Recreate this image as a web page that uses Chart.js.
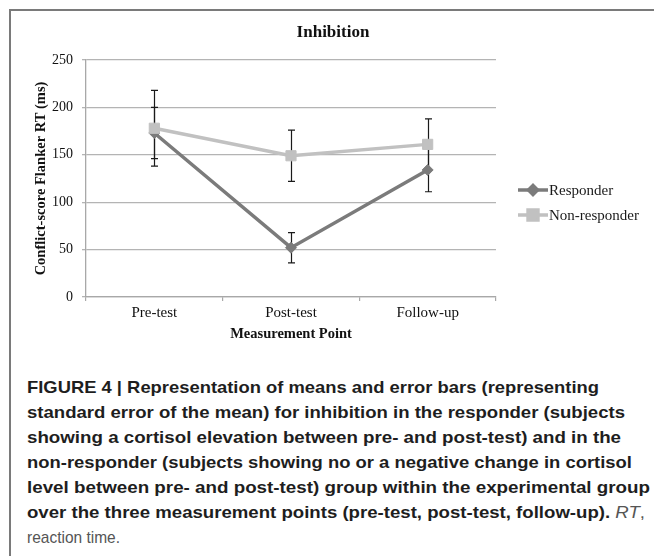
<!DOCTYPE html>
<html><head><meta charset="utf-8">
<script src="https://cdn.jsdelivr.net/npm/chart.js@4.4.1/dist/chart.umd.min.js"></script>
<style>
html,body{margin:0;padding:0;background:#fff;}
body{width:654px;height:556px;position:relative;overflow:hidden;}
#bt{position:absolute;left:9px;top:9px;width:645px;height:2px;background:#7a7a7a;}
#bl{position:absolute;left:9px;top:9px;width:2px;height:547px;background:#7a7a7a;}
#wrap{position:absolute;left:12px;top:12px;width:642px;height:360px;}
#cap{position:absolute;left:27px;top:375px;font-family:"Liberation Sans Narrow","Liberation Sans",Arial,sans-serif;font-size:17px;line-height:25px;color:#1e1e1e;}
.ln{white-space:nowrap;transform-origin:0 50%;width:max-content;}
.b{font-weight:bold;}
.r{font-weight:normal;color:#555;}
</style></head>
<body>
<div id="bt"></div><div id="bl"></div>
<div id="wrap"><canvas id="c" width="642" height="360"></canvas></div>
<div id="cap">
<div class="ln b" data-r="599">FIGURE 4 | Representation of means and error bars (representing</div>
<div class="ln b" data-r="625">standard error of the mean) for inhibition in the responder (subjects</div>
<div class="ln b" data-r="621">showing a cortisol elevation between pre- and post-test) and in the</div>
<div class="ln b" data-r="632">non-responder (subjects showing no or a negative change in cortisol</div>
<div class="ln b" data-r="650">level between pre- and post-test) group within the experimental group</div>
<div class="ln b" data-r="645">over the three measurement points (pre-test, post-test, follow-up). <i class="r">RT</i><span class="r">,</span></div>
<div class="ln r" data-r="120">reaction time.</div>
</div>
<script>
// ---- data ----
const categories = ['Pre-test', 'Post-test', 'Follow-up'];
const responder = [173, 52, 134];
const responderErr = [27, 16, 23];
const nonResponder = [178, 149, 161];
const nonResponderErr = [40, 27, 27];
const yTicks = [0, 50, 100, 150, 200, 250];
const seriesNames = ['Responder', 'Non-responder'];

// fit caption lines
document.querySelectorAll('#cap .ln').forEach(el => {
  const w = el.getBoundingClientRect().width;
  const target = parseFloat(el.dataset.r) - 27;
  el.style.transform = 'scaleX(' + (target / w) + ')';
});

const serif = '"Liberation Serif", "Times New Roman", serif';

const errorBars = {
  id: 'errorBars',
  beforeDatasetsDraw(chart) {
    const ctx = chart.ctx, y = chart.scales.y;
    chart.data.datasets.forEach((ds, i) => {
      const meta = chart.getDatasetMeta(i);
      meta.data.forEach((pt, j) => {
        const v = ds.data[j], e = ds.errors[j];
        const yt = y.getPixelForValue(v + e), yb = y.getPixelForValue(v - e);
        const x = Math.round(pt.x) + 0.5;
        ctx.save();
        ctx.strokeStyle = '#1a1a1a';
        ctx.lineWidth = 1.2;
        ctx.beginPath();
        ctx.moveTo(x, yt); ctx.lineTo(x, yb);
        ctx.moveTo(x - 3.5, yt); ctx.lineTo(x + 3.5, yt);
        ctx.moveTo(x - 3.5, yb); ctx.lineTo(x + 3.5, yb);
        ctx.stroke();
        ctx.restore();
      });
    });
  }
};

const sideLegend = {
  id: 'sideLegend',
  afterDraw(chart) {
    const ctx = chart.ctx, ca = chart.chartArea;
    const x0 = ca.right + 22, mid = (ca.top + ca.bottom) / 2;
    chart.data.datasets.forEach((ds, i) => {
      const yy = mid + 11.5 + i * 25;
      ctx.save();
      ctx.strokeStyle = ds.borderColor;
      ctx.lineWidth = ds.borderWidth;
      ctx.beginPath(); ctx.moveTo(x0, yy); ctx.lineTo(x0 + 30, yy); ctx.stroke();
      ctx.fillStyle = ds.pointBackgroundColor;
      ctx.strokeStyle = ds.pointBorderColor;
      Chart.helpers.drawPoint(ctx, {pointStyle: ds.pointStyle, radius: ds.legendRadius, borderWidth: 1, rotation: 0}, x0 + 15, yy);
      ctx.fillStyle = '#1a1a1a';
      ctx.font = '15px ' + serif;
      ctx.textBaseline = 'middle';
      ctx.textAlign = 'left';
      ctx.fillText(ds.label, x0 + 31, yy + 1);
      ctx.restore();
    });
  }
};

new Chart(document.getElementById('c'), {
  type: 'line',
  data: {
    labels: categories,
    datasets: [
      {
        label: seriesNames[0], data: responder, errors: responderErr,
        borderColor: '#7b7b7b', backgroundColor: '#7b7b7b', borderWidth: 3.5,
        pointStyle: 'rectRot', pointRadius: 5.5, legendRadius: 4.5,
        pointBackgroundColor: '#7b7b7b', pointBorderColor: '#7b7b7b', pointBorderWidth: 1,
        order: 1, tension: 0
      },
      {
        label: seriesNames[1], data: nonResponder, errors: nonResponderErr,
        borderColor: '#c1c1c1', backgroundColor: '#c1c1c1', borderWidth: 3.5,
        pointStyle: 'rect', pointRadius: 7.2, legendRadius: 7,
        pointBackgroundColor: '#c1c1c1', pointBorderColor: '#c1c1c1', pointBorderWidth: 1,
        order: 0, tension: 0
      }
    ]
  },
  options: {
    responsive: false,
    animation: false,
    layout: {padding: {left: 0, right: 0, top: 0, bottom: 0}},
    plugins: {
      legend: {display: false},
      tooltip: {enabled: false},
      title: {
        display: true, text: 'Inhibition', color: '#111',
        font: {family: serif, size: 17, weight: 'bold'},
        padding: {top: 10.8, bottom: 16.8}
      }
    },
    scales: {
      x: {
        offset: true,
        grid: {display: true, drawOnChartArea: false, drawTicks: true, tickLength: 4, color: '#a8a8a8', lineWidth: 1.2, offset: true},
        border: {display: true, color: '#a8a8a8', width: 1.3},
        ticks: {color: '#111', font: {family: serif, size: 15}, padding: 3},
        title: {display: true, text: 'Measurement Point', color: '#111', font: {family: serif, size: 14.5, weight: 'bold'}, padding: {top: 0, bottom: 29.3}},
        afterFit(s) { s.height = 75; }
      },
      y: {
        min: 0, max: 250,
        afterBuildTicks(s) { s.ticks = yTicks.map(v => ({value: v})); },
        grid: {color: '#b4b4b4', lineWidth: 1.3, tickLength: 4},
        border: {display: true, color: '#a8a8a8', width: 1.3},
        ticks: {color: '#111', font: {family: serif, size: 14}, padding: 9},
        title: {display: true, text: 'Conflict-score Flanker RT (ms)', color: '#111', font: {family: serif, size: 14.5, weight: 'bold'}, padding: {top: 21, bottom: 0}},
        afterFit(s) { s.width = 74; }
      },
      yR: {
        position: 'right', display: true, min: 0, max: 250,
        grid: {display: false}, border: {display: false}, ticks: {display: false},
        afterFit(s) { s.width = 158; }
      }
    }
  },
  plugins: [errorBars, sideLegend]
});
</script>
</body></html>
